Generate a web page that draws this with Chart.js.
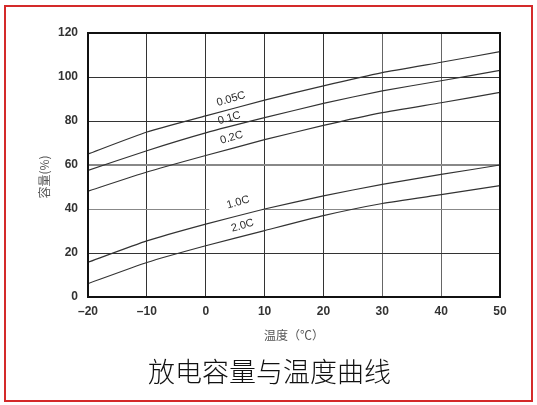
<!DOCTYPE html>
<html>
<head>
<meta charset="utf-8">
<script src="https://cdn.jsdelivr.net/npm/chart.js@4.4.1/dist/chart.umd.min.js"></script>
<style>
  html, body { margin:0; padding:0; background:#fff; }
  #wrap { position:relative; width:537px; height:405px; }
  #frame { position:absolute; left:4px; top:5px; width:525px; height:393px; border:2px solid #d42a2a; pointer-events:none; }
</style>
</head>
<body>
<div id="wrap">
  <canvas id="chart" width="537" height="405"></canvas>
  <div id="frame"></div>
</div>
<script>
// ============================================================
//  DATA
// ============================================================
var temps = [-20, -10, 0, 10, 20, 30, 40, 50];
var xTicks = [-20, -10, 0, 10, 20, 30, 40, 50];
var yTicks = [0, 20, 40, 60, 80, 100, 120];

var rateNames = ['0.05C', '0.1C', '0.2C', '1.0C', '2.0C'];
var cap005 = [65, 75, 82.3, 89.5, 96, 102, 106.7, 111.5];
var cap01  = [57.5, 66.5, 74.6, 81.5, 88, 93.7, 98.3, 103];
var cap02  = [48.1, 56.8, 64.3, 71.5, 78, 83.8, 88.3, 93];
var cap10  = [15.8, 25.5, 33.1, 40, 46, 51.2, 55.7, 60];
var cap20  = [6.1, 15.7, 23.3, 30.2, 37, 42.5, 46.5, 50.6];

// where each curve name sits (temperature, capacity)
var labelAt = [[4.3, 90], [4, 81.3], [4.4, 72.4], [5.5, 43], [6.25, 32.4]];

var chartTitle = '放电容量与温度曲线';
var xTitle = '温度（℃）';
var yTitle = '容量(%)';

var series = [cap005, cap01, cap02, cap10, cap20];

// ============================================================
//  PLUGINS
// ============================================================
var curveLabels = {
  id: 'curveLabels',
  beforeDatasetsDraw: function(chart) {
    // gap in the 40% grid line between 0 and 10 degrees
    var ctx = chart.ctx, x = chart.scales.x, y = chart.scales.y;
    ctx.save();
    ctx.strokeStyle = '#fff';
    ctx.lineWidth = 3;
    ctx.beginPath();
    ctx.moveTo(x.getPixelForValue(0.6), y.getPixelForValue(40));
    ctx.lineTo(x.getPixelForValue(9.6), y.getPixelForValue(40));
    ctx.stroke();
    ctx.restore();
  },
  afterDatasetsDraw: function(chart) {
    var ctx = chart.ctx, x = chart.scales.x, y = chart.scales.y;
    ctx.save();
    ctx.fillStyle = '#2a2a2a';
    ctx.font = '11px "Liberation Sans", sans-serif';
    ctx.textAlign = 'center';
    ctx.textBaseline = 'middle';
    rateNames.forEach(function(name, i) {
      ctx.save();
      ctx.translate(x.getPixelForValue(labelAt[i][0]), y.getPixelForValue(labelAt[i][1]));
      ctx.rotate(-16 * Math.PI / 180);
      ctx.fillText(name, 0, 0);
      ctx.restore();
    });
    // plot frame
    var a = chart.chartArea;
    ctx.strokeStyle = '#111';
    ctx.lineWidth = 2;
    ctx.strokeRect(a.left, a.top, a.right - a.left, a.bottom - a.top);
    // y axis title
    ctx.save();
    ctx.fillStyle = '#555';
    ctx.font = '12px "Noto Sans CJK SC", sans-serif';
    ctx.translate(44, 177);
    ctx.rotate(-Math.PI / 2);
    ctx.fillText(yTitle, 0, 0);
    ctx.restore();
    // big caption, centred on the whole picture
    ctx.fillStyle = '#111';
    ctx.font = '300 27px "Noto Sans CJK SC", sans-serif';
    ctx.fillText(chartTitle, chart.width / 2 + 1, 372);
    ctx.restore();
  }
};

// ============================================================
//  CHART
// ============================================================
new Chart(document.getElementById('chart'), {
  type: 'line',
  data: {
    labels: temps,
    datasets: series.map(function(s, i) {
      return { label: rateNames[i], data: temps.map(function(t, j) { return { x: t, y: s[j] }; }),
        borderColor: '#333', borderWidth: 1.2, pointRadius: 0, tension: 0.15, fill: false };
    })
  },
  options: {
    responsive: false,
    animation: false,
    devicePixelRatio: 1,
    layout: { padding: { left: 0, right: 37, top: 33, bottom: 51 } },
    plugins: {
      legend: { display: false },
      tooltip: { enabled: false },
      title: { display: false }
    },
    scales: {
      x: {
        type: 'linear', min: -20, max: 50,
        afterBuildTicks: function(s) { s.ticks = xTicks.map(function(v) { return { value: v }; }); },
        afterFit: function(s) { s.height = 57; },
        border: { display: false },
        grid: { drawTicks: false, lineWidth: 1, color: function(c) { return c.tick && c.tick.value >= 30 && c.tick.value < 50 ? '#666' : '#333'; } },
        ticks: {
          padding: 7, color: '#333',
          font: { family: '"Liberation Sans", sans-serif', size: 12, weight: 'bold' },
          callback: function(v) { return v < 0 ? '\u2013' + Math.abs(v) : '' + v; }
        },
        title: {
          display: true, text: xTitle, color: '#555',
          font: { family: '"Noto Sans CJK SC", sans-serif', size: 12 },
          padding: { top: 0, bottom: 11 }
        }
      },
      y: {
        min: 0, max: 120,
        afterBuildTicks: function(s) { s.ticks = yTicks.map(function(v) { return { value: v }; }); },
        afterFit: function(s) { s.width = 88; },
        border: { display: false },
        grid: {
          drawTicks: false,
          lineWidth: function(c) { return c.tick && c.tick.value === 60 ? 2 : 1; },
          color: function(c) { return c.tick && (c.tick.value === 60 || c.tick.value === 40) ? '#888' : '#333'; }
        },
        ticks: {
          padding: 10, color: '#333',
          font: { family: '"Liberation Sans", sans-serif', size: 12, weight: 'bold' }
        },
        title: { display: false }
      }
    }
  },
  plugins: [curveLabels]
});
</script>
</body>
</html>
